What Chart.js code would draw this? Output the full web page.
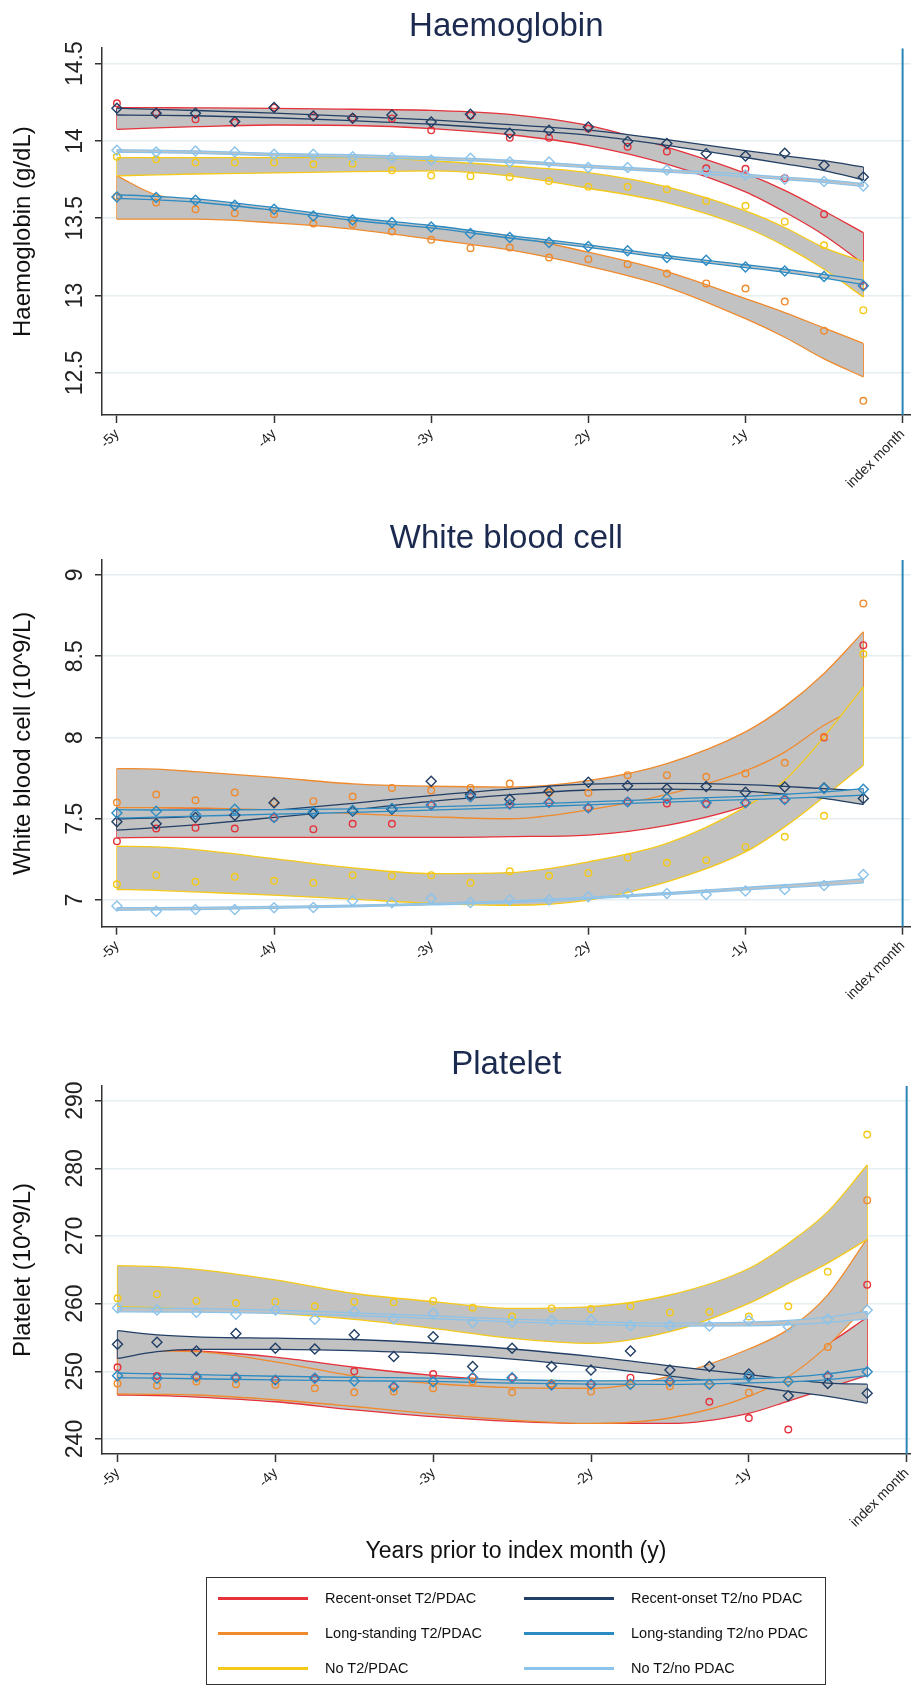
<!DOCTYPE html>
<html>
<head>
<meta charset="utf-8">
<title>Blood markers before index month</title>
<script src="https://cdn.jsdelivr.net/npm/chart.js"></script>
<style>
  html, body { margin: 0; padding: 0; background: #fff; }
  #page { position: relative; width: 917px; height: 1686px; overflow: hidden;
          font-family: 'Liberation Sans', Arial, Helvetica, sans-serif; }
  canvas { position: absolute; left: 0; }
  #xtitle { position: absolute; left: 216px; width: 600px; top: 1536px; line-height: 28px;
            text-align: center; font-size: 23px; color: #111; }
  #legend { position: absolute; left: 206px; top: 1577px; width: 620px; height: 108px;
            box-sizing: border-box; border: 1.5px solid #333; }
  .item { position: absolute; height: 20px; line-height: 20px; font-size: 14.5px; color: #111; white-space: nowrap; }
  .swatch { position: absolute; top: 9px; width: 90px; height: 2.5px; }
</style>
</head>
<body>
<div id="page">
  <canvas id="hb" width="917" height="505" style="top:0px"></canvas>
  <canvas id="wbc" width="917" height="535" style="top:505px"></canvas>
  <canvas id="plt" width="917" height="646" style="top:1040px"></canvas>
  <div id="xtitle">Years prior to index month (y)</div>
  <div id="legend"></div>
</div>
<script>
// months before the index month where the fitted curves and their 95% bands are given
const KNOTS = [-60, -57, -54, -48, -42, -36, -30, -24, -18, -12, -9, -6, -3];
// quarterly observed means
const QUARTERS = [-60, -57, -54, -51, -48, -45, -42, -39, -36, -33, -30, -27, -24, -21, -18, -15, -12, -9, -6, -3];

const SERIES = [
  'Recent-onset T2/PDAC', 'Long-standing T2/PDAC', 'No T2/PDAC',
  'Recent-onset T2/no PDAC', 'Long-standing T2/no PDAC', 'No T2/no PDAC'
];
const COLORS = ['#e5323b', '#f08a2c', '#f4c918', '#223f66', '#2c8bc3', '#8cc3ea'];
const MARKERS = ['circle', 'circle', 'circle', 'rectRot', 'rectRot', 'rectRot'];

const X_TICKS = [-60, -48, -36, -24, -12, 0];
const X_TICK_LABELS = ['-5y', '-4y', '-3y', '-2y', '-1y', 'index month'];

const HB_Y_TICKS = [12.5, 13, 13.5, 14, 14.5];
const WBC_Y_TICKS = [7, 7.5, 8, 8.5, 9];
const PLT_Y_TICKS = [240, 250, 260, 270, 280, 290];

// ---- Haemoglobin (g/dL); rows follow SERIES ----
const HB_HI = [
  [14.216, 14.215, 14.214, 14.211, 14.205, 14.198, 14.172, 14.10, 13.96, 13.79, 13.68, 13.547, 13.407],
  [13.774, 13.651, 13.616, 13.558, 13.494, 13.44, 13.385, 13.28, 13.155, 12.98, 12.89, 12.79, 12.69],
  [13.892, 13.892, 13.892, 13.892, 13.892, 13.872, 13.838, 13.795, 13.703, 13.547, 13.44, 13.31, 13.22],
  [14.212, 14.204, 14.197, 14.18, 14.159, 14.136, 14.105, 14.07, 14.008, 13.937, 13.904, 13.872, 13.832],
  [13.652, 13.641, 13.625, 13.569, 13.503, 13.453, 13.388, 13.328, 13.258, 13.199, 13.17, 13.137, 13.10],
  [13.943, 13.94, 13.936, 13.92, 13.911, 13.896, 13.876, 13.843, 13.814, 13.785, 13.766, 13.749, 13.725]
];
const HB_FIT = [
  [14.145, 14.150, 14.153, 14.157, 14.152, 14.139, 14.106, 14.035, 13.905, 13.73, 13.61, 13.468, 13.29],
  [13.634, 13.58, 13.56, 13.514, 13.462, 13.402, 13.34, 13.235, 13.105, 12.915, 12.81, 12.69, 12.585],
  [13.834, 13.838, 13.841, 13.845, 13.846, 13.84, 13.805, 13.741, 13.649, 13.494, 13.38, 13.246, 13.11],
  [14.19, 14.185, 14.18, 14.165, 14.145, 14.122, 14.09, 14.054, 13.99, 13.915, 13.878, 13.84, 13.79],
  [13.64, 13.63, 13.615, 13.56, 13.495, 13.445, 13.38, 13.32, 13.25, 13.19, 13.16, 13.125, 13.085],
  [13.935, 13.932, 13.928, 13.912, 13.903, 13.888, 13.868, 13.835, 13.806, 13.777, 13.758, 13.74, 13.715]
];
const HB_LO = [
  [14.075, 14.085, 14.092, 14.103, 14.10, 14.08, 14.04, 13.97, 13.85, 13.67, 13.54, 13.39, 13.207],
  [13.494, 13.494, 13.494, 13.47, 13.43, 13.364, 13.295, 13.19, 13.055, 12.85, 12.73, 12.59, 12.474],
  [13.774, 13.781, 13.786, 13.793, 13.802, 13.806, 13.774, 13.694, 13.601, 13.44, 13.32, 13.17, 12.99],
  [14.168, 14.166, 14.163, 14.15, 14.131, 14.108, 14.075, 14.038, 13.972, 13.893, 13.852, 13.808, 13.748],
  [13.628, 13.619, 13.605, 13.551, 13.487, 13.437, 13.372, 13.312, 13.242, 13.181, 13.15, 13.113, 13.07],
  [13.927, 13.924, 13.92, 13.904, 13.895, 13.88, 13.86, 13.827, 13.798, 13.769, 13.75, 13.731, 13.705]
];
const HB_OBS = [
  [14.244, 14.18, 14.14, 14.119, 14.216, 14.16, 14.15, 14.146, 14.069, 14.165, 14.02, 14.02, 14.08, 13.963, 13.931, 13.823, 13.82, 13.759, 13.526, 13.063],
  [13.64, 13.601, 13.558, 13.532, 13.526, 13.466, 13.461, 13.414, 13.36, 13.306, 13.31, 13.246, 13.235, 13.203, 13.142, 13.078, 13.045, 12.961, 12.772, 12.319],
  [13.897, 13.881, 13.86, 13.86, 13.86, 13.849, 13.853, 13.81, 13.776, 13.772, 13.767, 13.741, 13.703, 13.703, 13.688, 13.612, 13.58, 13.478, 13.325, 12.905],
  [14.211, 14.179, 14.179, 14.125, 14.216, 14.162, 14.147, 14.168, 14.123, 14.172, 14.05, 14.069, 14.09, 13.996, 13.983, 13.918, 13.903, 13.92, 13.843, 13.767],
  [13.638, 13.634, 13.616, 13.584, 13.558, 13.515, 13.489, 13.472, 13.444, 13.401, 13.375, 13.343, 13.317, 13.289, 13.246, 13.228, 13.185, 13.159, 13.123, 13.063],
  [13.94, 13.929, 13.935, 13.929, 13.914, 13.914, 13.897, 13.892, 13.877, 13.888, 13.864, 13.864, 13.828, 13.828, 13.812, 13.8, 13.78, 13.752, 13.737, 13.709]
];

// ---- White blood cell (10^9/L) ----
const WBC_HI = [
  [7.577, 7.571, 7.566, 7.558, 7.554, 7.555, 7.56, 7.60, 7.66, 7.82, 7.97, 8.25, 8.54],
  [7.809, 7.805, 7.79, 7.755, 7.715, 7.70, 7.695, 7.735, 7.84, 8.035, 8.19, 8.394, 8.65],
  [7.331, 7.327, 7.31, 7.255, 7.198, 7.163, 7.169, 7.235, 7.348, 7.573, 7.737, 8.004, 8.312],
  [7.50, 7.505, 7.517, 7.552, 7.595, 7.643, 7.683, 7.713, 7.718, 7.71, 7.699, 7.685, 7.672],
  [7.556, 7.554, 7.554, 7.556, 7.561, 7.573, 7.587, 7.604, 7.621, 7.638, 7.65, 7.665, 7.685],
  [6.953, 6.953, 6.955, 6.961, 6.968, 6.98, 6.995, 7.017, 7.046, 7.078, 7.094, 7.111, 7.131]
];
const WBC_FIT = [
  [7.48, 7.478, 7.476, 7.472, 7.47, 7.47, 7.475, 7.50, 7.56, 7.70, 7.83, 8.05, 8.28],
  [7.69, 7.686, 7.676, 7.649, 7.625, 7.606, 7.597, 7.645, 7.745, 7.915, 8.05, 8.235, 8.425],
  [7.198, 7.195, 7.184, 7.143, 7.102, 7.072, 7.068, 7.118, 7.23, 7.435, 7.594, 7.82, 8.07],
  [7.465, 7.475, 7.49, 7.53, 7.575, 7.625, 7.665, 7.695, 7.70, 7.69, 7.675, 7.655, 7.63],
  [7.53, 7.532, 7.535, 7.542, 7.55, 7.563, 7.578, 7.595, 7.612, 7.628, 7.638, 7.65, 7.665],
  [6.945, 6.946, 6.948, 6.955, 6.963, 6.975, 6.99, 7.012, 7.04, 7.07, 7.085, 7.10, 7.118]
];
const WBC_LO = [
  [7.383, 7.385, 7.386, 7.386, 7.386, 7.385, 7.39, 7.40, 7.46, 7.58, 7.69, 7.85, 8.02],
  [7.569, 7.568, 7.567, 7.553, 7.532, 7.512, 7.50, 7.555, 7.65, 7.795, 7.91, 8.075, 8.20],
  [7.065, 7.06, 7.05, 7.03, 7.006, 6.98, 6.968, 7.0, 7.112, 7.296, 7.45, 7.635, 7.83],
  [7.43, 7.445, 7.463, 7.508, 7.555, 7.607, 7.647, 7.677, 7.682, 7.67, 7.651, 7.625, 7.588],
  [7.504, 7.51, 7.516, 7.528, 7.539, 7.553, 7.569, 7.586, 7.603, 7.618, 7.626, 7.635, 7.645],
  [6.937, 6.939, 6.941, 6.949, 6.958, 6.97, 6.985, 7.007, 7.034, 7.062, 7.076, 7.089, 7.105]
];
const WBC_OBS = [
  [7.362, 7.44, 7.444, 7.44, 7.505, 7.436, 7.469, 7.469, 7.584, 7.635, 7.59, 7.60, 7.567, 7.604, 7.594, 7.59, 7.598, 7.618, 8.0, 8.568],
  [7.6, 7.649, 7.614, 7.662, 7.6, 7.608, 7.637, 7.69, 7.674, 7.69, 7.717, 7.66, 7.66, 7.768, 7.768, 7.758, 7.778, 7.844, 8.004, 8.825],
  [7.097, 7.153, 7.112, 7.143, 7.118, 7.106, 7.153, 7.147, 7.153, 7.106, 7.177, 7.149, 7.167, 7.262, 7.229, 7.245, 7.327, 7.389, 7.518, 8.513],
  [7.481, 7.469, 7.508, 7.522, 7.598, 7.532, 7.547, 7.559, 7.731, 7.649, 7.62, 7.669, 7.725, 7.703, 7.685, 7.698, 7.663, 7.695, 7.69, 7.625],
  [7.536, 7.547, 7.526, 7.559, 7.508, 7.543, 7.553, 7.563, 7.584, 7.635, 7.59, 7.60, 7.567, 7.604, 7.625, 7.598, 7.598, 7.618, 7.686, 7.682],
  [6.964, 6.931, 6.942, 6.942, 6.952, 6.954, 6.995, 6.983, 7.009, 6.985, 7.0, 7.0, 7.02, 7.04, 7.04, 7.034, 7.056, 7.065, 7.09, 7.157]
];

// ---- Platelet (10^9/L) ----
const PLT_HI = [
  [253.3, 253.2, 253.0, 252.1, 250.6, 249.4, 248.6, 248.3, 248.6, 249.8, 251.7, 254.1, 258.0],
  [253.2, 253.0, 252.9, 251.4, 249.3, 248.2, 247.6, 247.5, 249.3, 253.3, 256.2, 261.3, 269.6],
  [265.62, 265.47, 265.07, 263.5, 261.5, 260.3, 259.3, 259.56, 261.28, 265.2, 268.9, 273.6, 280.5],
  [256.0, 255.4, 255.1, 254.9, 254.7, 254.15, 253.3, 252.2, 250.8, 249.5, 248.85, 248.25, 248.1],
  [249.75, 249.62, 249.5, 249.27, 249.1, 249.0, 248.75, 248.6, 248.62, 248.9, 249.15, 249.62, 250.45],
  [259.4, 259.33, 259.26, 259.03, 258.65, 258.2, 257.7, 257.35, 257.12, 257.27, 257.52, 258.0, 258.85]
];
const PLT_FIT = [
  [249.9, 249.8, 249.6, 248.8, 247.45, 246.35, 245.6, 245.3, 245.45, 246.8, 248.65, 250.8, 253.7],
  [249.95, 249.8, 249.65, 248.6, 247.0, 245.9, 245.2, 244.9, 246.2, 249.8, 252.7, 257.6, 264.7],
  [262.6, 262.5, 262.1, 261.0, 259.6, 258.3, 257.1, 256.85, 258.57, 262.6, 265.95, 269.8, 275.0],
  [254.0, 254.2, 254.35, 254.3, 253.9, 253.4, 252.6, 251.4, 250.1, 248.7, 248.0, 247.35, 246.75],
  [249.4, 249.3, 249.2, 249.0, 248.85, 248.75, 248.5, 248.35, 248.35, 248.6, 248.8, 249.2, 249.9],
  [259.1, 259.05, 259.0, 258.8, 258.45, 258.0, 257.5, 257.15, 256.9, 257.0, 257.2, 257.6, 258.3]
];
const PLT_LO = [
  [246.5, 246.4, 246.2, 245.5, 244.3, 243.3, 242.6, 242.3, 242.3, 243.8, 245.6, 247.5, 249.4],
  [246.65, 246.6, 246.5, 245.8, 244.8, 243.7, 242.8, 242.3, 243.1, 246.3, 249.2, 253.8, 259.8],
  [259.56, 259.4, 259.16, 258.57, 257.68, 256.35, 254.88, 254.14, 255.86, 260.05, 263.0, 266.0, 269.5],
  [251.9, 252.9, 253.25, 253.25, 253.05, 252.65, 251.8, 250.7, 249.3, 247.85, 247.05, 246.3, 245.3],
  [249.05, 248.98, 248.9, 248.73, 248.6, 248.5, 248.25, 248.1, 248.08, 248.3, 248.45, 248.78, 249.35],
  [258.8, 258.77, 258.74, 258.57, 258.25, 257.8, 257.3, 256.95, 256.68, 256.73, 256.88, 257.2, 257.75]
];
const PLT_OBS = [
  [250.6, 249.3, 249.2, 249.06, 248.7, 248.97, 250.0, 247.7, 249.6, 249.1, 249.06, 247.98, 248.1, 249.06, 248.5, 245.5, 243.1, 241.4, 249.3, 262.8],
  [248.2, 247.9, 248.5, 248.1, 248.0, 247.5, 246.9, 247.0, 247.5, 248.5, 246.9, 248.2, 247.0, 248.0, 247.8, 248.1, 246.85, 248.5, 253.6, 275.3],
  [260.8, 261.4, 260.4, 260.1, 260.3, 259.6, 260.3, 260.2, 260.4, 259.4, 258.1, 259.3, 259.2, 259.6, 258.7, 258.8, 258.1, 259.6, 264.7, 285.0],
  [254.0, 254.3, 253.0, 255.6, 253.4, 253.3, 255.4, 252.2, 255.1, 250.7, 253.4, 250.7, 250.2, 253.0, 250.2, 250.7, 249.6, 246.4, 248.2, 246.75],
  [249.36, 248.97, 249.2, 249.06, 248.7, 248.97, 248.57, 247.73, 248.47, 249.1, 249.06, 247.98, 248.1, 248.1, 248.5, 248.1, 249.2, 248.5, 249.3, 249.95],
  [259.36, 259.06, 258.72, 258.42, 259.06, 257.68, 258.8, 257.78, 258.57, 257.2, 257.3, 257.5, 257.6, 256.75, 256.75, 256.7, 257.5, 256.6, 257.7, 259.06]
];

const FONT = "'Liberation Sans', Arial, Helvetica, sans-serif";
const BAND_GRAY = '#c2c2c2';
const GRID = '#e7eef2';
const AXIS = '#333333';
const INDEX_LINE = '#2b85b6';
const TITLE_COLOR = '#1b2a4e';

Chart.defaults.font.family = FONT;
Chart.defaults.color = '#222';

const PANELS = [
  { id: 'hb', title: 'Haemoglobin', yTitle: 'Haemoglobin (g/dL)', yMin: 12.227, yMax: 14.6, yTicks: HB_Y_TICKS,
    hi: HB_HI, fit: HB_FIT, lo: HB_LO, obs: HB_OBS, xMin: -61.14, xMax: 0.61, titlePad: 7.6, bottomPad: 10, rightPad: 2 },
  { id: 'wbc', title: 'White blood cell', yTitle: 'White blood cell (10^9/L)', yMin: 6.836, yMax: 9.092, yTicks: WBC_Y_TICKS,
    hi: WBC_HI, fit: WBC_FIT, lo: WBC_LO, obs: WBC_OBS, xMin: -61.14, xMax: 0.61, titlePad: 14.4, bottomPad: 33.3, rightPad: 2 },
  { id: 'plt', title: 'Platelet', yTitle: 'Platelet (10^9/L)', yMin: 237.78, yMax: 292.17, yTicks: PLT_Y_TICKS,
    hi: PLT_HI, fit: PLT_FIT, lo: PLT_LO, obs: PLT_OBS, xMin: -61.18, xMax: 0.30, titlePad: 5.4, bottomPad: 152, rightPad: 0 }
];

function points(xs, ys) {
  return xs.map((x, i) => ({ x, y: ys[i] }));
}

// y labels are drawn upright along the axis, reading bottom to top
const verticalYLabels = {
  id: 'verticalYLabels',
  afterDraw(chart) {
    const y = chart.scales.y;
    const ctx = chart.ctx;
    ctx.save();
    ctx.font = '23px ' + FONT;
    ctx.fillStyle = '#222';
    ctx.textAlign = 'center';
    ctx.textBaseline = 'middle';
    y.ticks.forEach(t => {
      ctx.save();
      ctx.translate(76, y.getPixelForValue(t.value));
      ctx.rotate(-Math.PI / 2);
      ctx.fillText(String(t.value), 0, 0);
      ctx.restore();
    });
    ctx.restore();
  }
};

function buildDatasets(p) {
  const sets = [];
  const last = KNOTS.length - 1;
  SERIES.forEach((name, s) => {
    const color = COLORS[s];
    const edge = { label: name, borderColor: color, borderWidth: 1.3, pointRadius: 0, fill: false, tension: 0, order: 30 - s };
    const smooth = { cubicInterpolationMode: 'monotone' };
    // confidence band: lower edge, upper edge filled down to it, closing ends
    sets.push({ ...edge, ...smooth, data: points(KNOTS, p.lo[s]) });
    sets.push({ ...edge, ...smooth, data: points(KNOTS, p.hi[s]), fill: '-1', backgroundColor: BAND_GRAY });
    sets.push({ ...edge, data: [{ x: KNOTS[0], y: p.lo[s][0] }, { x: KNOTS[0], y: p.hi[s][0] }] });
    sets.push({ ...edge, data: [{ x: KNOTS[last], y: p.lo[s][last] }, { x: KNOTS[last], y: p.hi[s][last] }] });
    // fitted trajectory
    sets.push({ ...edge, ...smooth, borderWidth: 1.6, data: points(KNOTS, p.fit[s]) });
    // observed quarterly means
    sets.push({
      label: name, data: points(QUARTERS, p.obs[s]), showLine: false,
      pointStyle: MARKERS[s], pointRadius: MARKERS[s] === 'circle' ? 3.3 : 5,
      pointBorderColor: color, pointBackgroundColor: 'rgba(0,0,0,0)', pointBorderWidth: 1.4,
      order: 10 - s
    });
  });
  // index month marker
  sets.push({ data: [{ x: 0, y: p.yMin }, { x: 0, y: p.yMax }], borderColor: INDEX_LINE, borderWidth: 2,
              pointRadius: 0, fill: false, order: 0 });
  return sets;
}

PANELS.forEach(p => {
  new Chart(document.getElementById(p.id), {
    type: 'line',
    data: { datasets: buildDatasets(p) },
    plugins: [verticalYLabels],
    options: {
      responsive: false,
      animation: false,
      events: [],
      layout: { padding: { left: 0, right: p.rightPad, top: 0, bottom: p.bottomPad } },
      plugins: {
        legend: { display: false },
        tooltip: { enabled: false },
        title: {
          display: true, text: p.title, fullSize: false, color: TITLE_COLOR,
          font: { size: 33, weight: 'normal' }, padding: { top: p.titlePad, bottom: 1 }
        }
      },
      scales: {
        x: {
          type: 'linear', min: p.xMin, max: p.xMax,
          afterBuildTicks: s => { s.ticks = X_TICKS.map(v => ({ value: v })); },
          afterFit: s => { s.height = 80; s.paddingLeft = 0; s.paddingRight = 0; },
          ticks: {
            autoSkip: false, minRotation: 45, maxRotation: 45, padding: 3,
            font: { size: 14 }, color: '#222',
            callback: (v, i) => X_TICK_LABELS[i]
          },
          grid: { drawOnChartArea: false, drawTicks: true, tickLength: 8, tickColor: AXIS, tickWidth: 1.5 },
          border: { display: true, color: AXIS, width: 1.5 }
        },
        y: {
          type: 'linear', min: p.yMin, max: p.yMax,
          afterBuildTicks: s => { s.ticks = p.yTicks.map(v => ({ value: v })); },
          afterFit: s => { s.width = 102; s.paddingTop = 0; s.paddingBottom = 0; },
          ticks: { display: false },
          grid: { color: GRID, lineWidth: 1.5, tickLength: 7, tickColor: AXIS, tickWidth: 1.5 },
          border: { display: true, color: AXIS, width: 1.5 },
          title: {
            display: true, text: p.yTitle, color: '#111',
            font: { size: 24 }, padding: { top: 8.6, bottom: 0 }
          }
        }
      }
    }
  });
});

// legend: PDAC groups in the left column, no-PDAC groups in the right
const legend = document.getElementById('legend');
SERIES.forEach((name, s) => {
  const col = s < 3 ? 0 : 1;
  const row = s % 3;
  const item = document.createElement('div');
  item.className = 'item';
  item.style.left = (col === 0 ? 11 : 317) + 'px';
  item.style.top = (10 + row * 35) + 'px';
  item.style.paddingLeft = '107px';
  const sw = document.createElement('span');
  sw.className = 'swatch';
  sw.style.left = '0px';
  sw.style.background = COLORS[s];
  item.appendChild(sw);
  item.appendChild(document.createTextNode(name));
  legend.appendChild(item);
});
</script>
</body>
</html>
